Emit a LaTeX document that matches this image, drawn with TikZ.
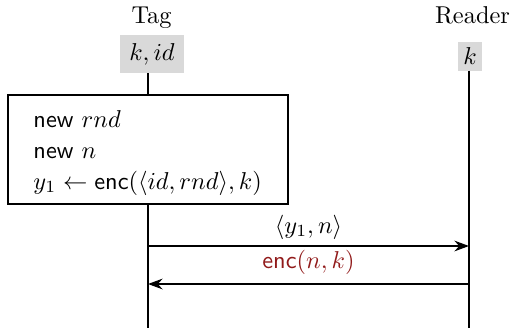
\documentclass[tikz,border=0pt]{standalone}
\usetikzlibrary{arrows.meta}
\definecolor{msgred}{RGB}{145,26,26}
\definecolor{knowgray}{RGB}{217,217,217}
\begin{document}
\begin{tikzpicture}[x=0.41pt,y=-0.41pt,
  role/.style={inner sep=0pt, anchor=base},
  know/.style={fill=knowgray, inner sep=0pt},
  procbox/.style={draw, line width=0.6pt},
  life/.style={line width=0.55pt},
  lifethick/.style={line width=0.85pt},
  msg/.style={line width=0.65pt, -{Stealth[length=6pt,width=4.4pt,inset=2pt]}},
  line/.style={anchor=base west, inner sep=0pt}]
\useasboundingbox (0,0) rectangle (516,328);
% roles
\node[role] (tag) at (151.5,23) {Tag};
\node[role] (reader) at (472.5,23) {Reader};
\node[know, minimum width=26.2pt, minimum height=15.6pt] (tk) at (152,54) {$k,id$};
\node[know, minimum width=9.6pt, minimum height=11.9pt] (rk) at (470,56.2) {$k$};
% process box
\node[procbox, minimum width=280*0.41pt, minimum height=109*0.41pt, inner sep=0pt] (proc) at (148,149.5) {};
\node[line] (l1) at (33,127) {\textsf{new} $rnd$};
\node[line] (l2) at (33,158) {\textsf{new} $n$};
\node[line] (l3) at (33,189) {$y_1\leftarrow \textsf{enc}(\langle id,rnd\rangle,k)$};
% lifeline coordinates
\coordinate (tagtop) at (148,73);
\coordinate (tagmid) at (148,315);
\coordinate (tagend) at (148,328);
\coordinate (rtop) at (469,70.7);
\coordinate (rthick) at (469,97);
\coordinate (rmid) at (469,315);
\coordinate (rend) at (469,328);
\coordinate (a1s) at (148,246);
\coordinate (a1e) at (469,246);
\coordinate (a2s) at (469,284);
\coordinate (a2e) at (148,284);
% lifelines
\draw[lifethick] (tagtop) -- (proc.north);
\draw[life] (proc.south) -- (tagmid);
\draw[lifethick] (tagmid) -- (tagend);
\draw[lifethick] (rtop) -- (rthick);
\draw[life] (rthick) -- (rmid);
\draw[lifethick] (rmid) -- (rend);
% messages
\draw[msg] (a1s) -- node[above=1.5pt, inner sep=1pt] (m1) {$\langle y_1,n\rangle$} (a1e);
\draw[msg] (a2s) -- node[above=2.6pt, inner sep=1pt, text=msgred] (m2) {$\textsf{enc}(n,k)$} (a2e);
\end{tikzpicture}
\end{document}
